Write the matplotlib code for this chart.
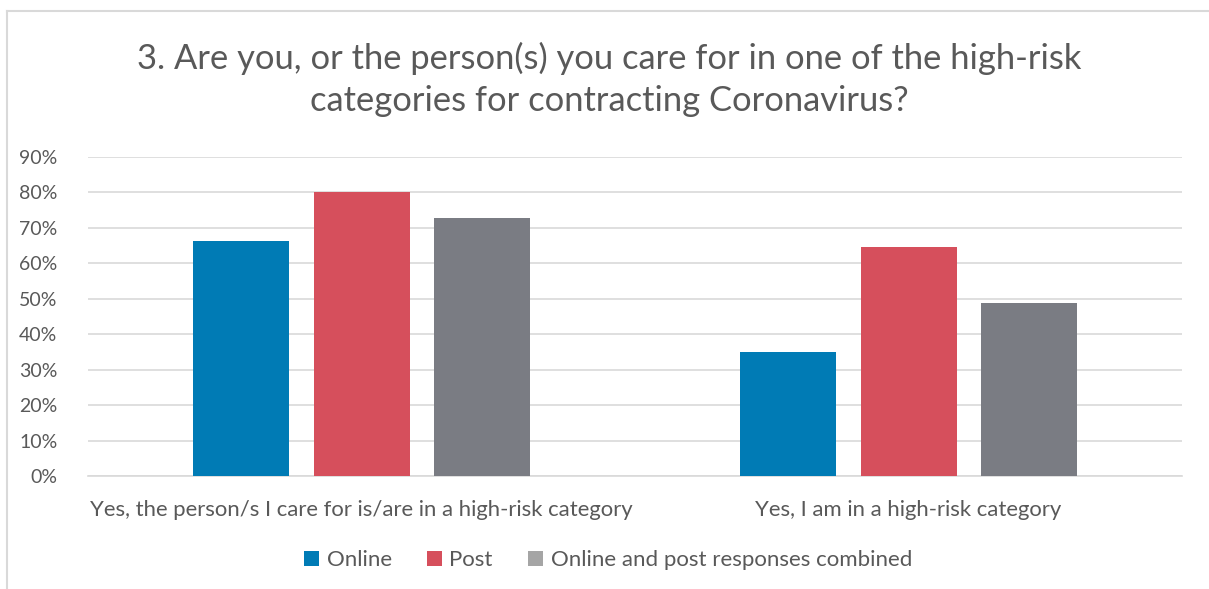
import matplotlib
matplotlib.use("Agg")
import matplotlib.pyplot as plt
from matplotlib.patches import Patch
from matplotlib.lines import Line2D
import numpy as np

categories = ["Yes, the person/s I care for is/are in a high-risk category",
              "Yes, I am in a high-risk category"]
series_names = ["Online", "Post", "Online and post responses combined"]
online = [66.2, 35.0]
post = [80.0, 64.6]
combined = [72.7, 48.9]
yticks = [0, 10, 20, 30, 40, 50, 60, 70, 80, 90]
ytick_labels = ["0%", "10%", "20%", "30%", "40%", "50%", "60%", "70%", "80%", "90%"]
title = "3. Are you, or the person(s) you care for in one of the high-risk\ncategories for contracting Coronavirus?"

bar_colors = ["#007BB5", "#D64F5C", "#7A7C83"]
legend_colors = ["#007BB5", "#D64F5C", "#A5A5A5"]
text_color = "#595959"
grid_color = "#D9D9D9"

plt.rcParams['font.family'] = ['Lato', 'DejaVu Sans']

fig = plt.figure(figsize=(12.09, 5.89), dpi=100)
ax = fig.add_axes([0.0728, 0.1919, 0.9777 - 0.0728, 0.5415])

x = np.arange(len(categories))
width = 0.1755
step = 0.221
for i, vals in enumerate([online, post, combined]):
    ax.bar(x + (i - 1) * step, vals, width=width, color=bar_colors[i], zorder=3)

ax.set_xlim(-0.5, 1.5)
ax.set_ylim(0, 90)
ax.set_yticks(yticks)
ax.set_yticklabels(ytick_labels)
ax.set_xticks(x)
ax.set_xticklabels(categories)
ax.yaxis.grid(True, color=grid_color, linewidth=1.2, zorder=0)
for s in ["top", "right", "left"]:
    ax.spines[s].set_visible(False)
ax.spines["bottom"].set_color(grid_color)
ax.spines["bottom"].set_linewidth(1.2)
ax.tick_params(axis="y", length=0, colors=text_color, labelsize=14, pad=22)
ax.tick_params(axis="x", length=0, colors=text_color, labelsize=15.9, pad=17)

fig.text(0.5037, 1 - 79 / 589, title, ha="center", va="center",
         fontsize=24.8, color=text_color, linespacing=1.38)

handles = [Patch(facecolor=c, label=n) for c, n in zip(legend_colors, series_names)]
leg = fig.legend(handles=handles, loc="center", bbox_to_anchor=(0.503, 1 - 560 / 589),
                 ncol=3, frameon=False, fontsize=16, handlelength=0.65, handleheight=0.65,
                 handletextpad=0.35, columnspacing=1.6)
for t in leg.get_texts():
    t.set_color(text_color)

# chart border (left and top edges visible)
fig.add_artist(Line2D([7 / 1209, 7 / 1209], [0, 1 - 11 / 589], transform=fig.transFigure,
                      color=grid_color, linewidth=1.5))
fig.add_artist(Line2D([7 / 1209, 1], [1 - 11 / 589, 1 - 11 / 589], transform=fig.transFigure,
                      color=grid_color, linewidth=1.5))

fig.savefig("out.png", dpi=100)
